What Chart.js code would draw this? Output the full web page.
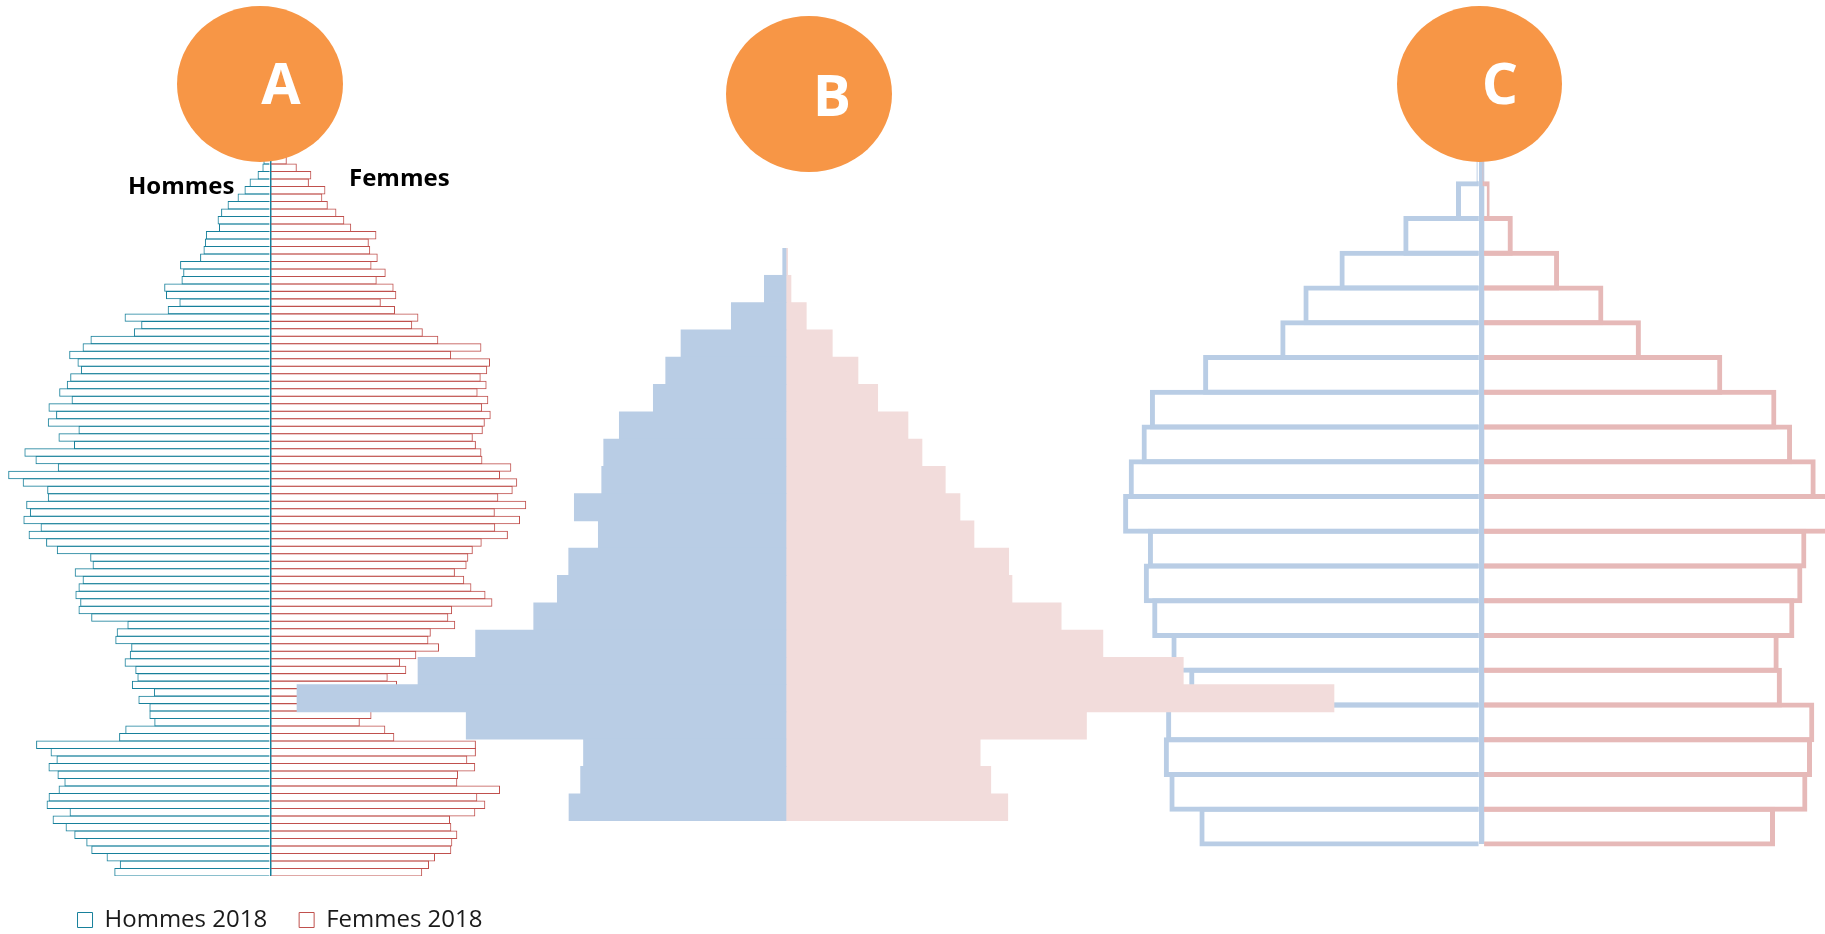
<!DOCTYPE html>
<html>
<head>
<meta charset="utf-8">
<script src="https://cdn.jsdelivr.net/npm/chart.js@4.4.1/dist/chart.umd.min.js"></script>
<style>
body { margin: 0; width: 1825px; height: 934px; overflow: hidden; background: #fff; position: relative; font-family: 'Open Sans', sans-serif; }
.box { position: absolute; }
.rond { position: absolute; border-radius: 50%; background: #f79646; z-index: 5; }
.lettre { position: absolute; width: 100px; text-align: center; color: #fff; font-weight: bold; font-size: 57px; line-height: 57px; }
.titre { position: absolute; font-weight: bold; font-size: 24px; line-height: 24px; color: #000; z-index: 4; }
</style>
</head>
<body>
<div class="box" style="left:0;top:119px;width:560px;height:823px;z-index:1"><canvas id="chartA"></canvas></div>
<div class="box" style="left:1100px;top:145px;width:725px;height:703px;z-index:2"><canvas id="chartC"></canvas></div>
<div class="box" style="left:286px;top:248px;width:1060px;height:573px;z-index:3"><canvas id="chartB"></canvas></div>

<div class="titre" style="left:128px;top:173px">Hommes</div>
<div class="titre" style="left:349px;top:165px">Femmes</div>

<div class="rond" style="left:177px;top:6px;width:166px;height:156px"><div class="lettre" style="left:54px;top:48px">A</div></div>
<div class="rond" style="left:726px;top:16px;width:166px;height:156px"><div class="lettre" style="left:56px;top:50px">B</div></div>
<div class="rond" style="left:1397px;top:6px;width:165px;height:156px"><div class="lettre" style="left:53px;top:48px">C</div></div>

<script>
Chart.defaults.font.family = "'Open Sans', sans-serif";

// pyramide A : un rang par age, de 100 ans (haut) a 0 an (bas)
var agesA = [];
for (var a = 100; a >= 0; a--) {
    agesA.push(String(a));
}
var hommesA = [1, 1.5, 2.5, 4, 5,
    6.9, 7.9, 12.7, 20.7, 25.8, 32.7, 42.7, 49.2, 52.7, 51.3,
    64.4, 65.4, 66.8, 70.2, 90.2, 87.1, 88.8, 106.1, 104.3, 90.9,
    102.6, 145.7, 129.1, 136.4, 179.8, 187.7, 201.1, 192.8, 189.4, 200.1,
    203.5, 211.1, 198.7, 221.8, 214.2, 222.5, 191.8, 211.8, 196.3, 245.9,
    234.8, 212.5, 262.1, 247.6, 223.1, 222.5, 244.1, 240.4, 246.9, 229.7,
    241.7, 224.2, 213.5, 180.1, 177.7, 195.6, 187.7, 191.8, 194.9, 190.1,
    191.8, 179.1, 142.9, 153.6, 155.0, 139.1, 140.5, 145.7, 135.0, 132.9,
    138.4, 116.4, 131.9, 120.9, 120.9, 116.0, 145.0, 151.2, 234.2, 219.7,
    213.8, 221.8, 212.8, 205.9, 211.7, 221.7, 223.7, 200.7, 217.7, 204.7,
    196, 184, 179, 163.7, 150.5, 156.0];
var femmesA = [3, 4, 7, 10, 13,
    16.5, 26.5, 41.0, 38.6, 55.1, 52.0, 57.5, 66.1, 74.0, 80.9,
    106.1, 98.5, 99.9, 107.4, 101.2, 115.4, 106.4, 123.3, 126.0, 110.5,
    124.7, 148.1, 141.9, 152.5, 168.0, 211.1, 180.8, 219.7, 216.9, 210.4,
    216.3, 207.3, 218.0, 211.8, 220.4, 214.5, 212.5, 202.5, 205.6, 211.1,
    212.1, 241.0, 229.7, 246.9, 242.4, 228.0, 255.9, 224.5, 249.7, 224.9,
    237.6, 211.4, 202.5, 198.0, 196.3, 184.6, 193.9, 201.1, 215.2, 222.1,
    181.8, 178.0, 184.9, 160.5, 158.1, 168.7, 146.0, 129.8, 136.0, 117.4,
    126.7, 110, 118, 108, 101.2, 89.5, 115.0, 124.0, 205.6, 205.6,
    197.0, 204.9, 187.7, 187.0, 229.7, 207, 215, 205, 179.7, 181,
    187, 182, 181, 164.7, 158.7, 151.9];

// pyramide B : groupes de 5 ans
var groupesB = ['100+', '95-99', '90-94', '85-89', '80-84', '75-79', '70-74', '65-69', '60-64', '55-59',
    '50-54', '45-49', '40-44', '35-39', '30-34', '25-29', '20-24', '15-19', '10-14', '5-9', '0-4'];
var hommesB = [3.3, 21.7, 54.7, 105, 120.3, 132.7, 166.7, 182.3, 184.3, 211.7, 187.7, 217.3, 228.7, 252.3, 310.4, 368, 489, 319.8, 202.5, 205.4, 217];
var femmesB = [1.7, 5, 20.3, 46.3, 72, 91.7, 122, 136, 159.3, 174, 188, 222.7, 226, 275.2, 316.9, 397.3, 548, 300.5, 194.2, 204.8, 221.8];

// pyramide C : groupes de 5 ans, dernier groupe 95+
var groupesC = ['95+', '90-94', '85-89', '80-84', '75-79', '70-74', '65-69', '60-64', '55-59', '50-54',
    '45-49', '40-44', '35-39', '30-34', '25-29', '20-24', '15-19', '10-14', '5-9', '0-4'];
var hommesC = [5, 25.4, 78.1, 141.9, 178, 201.1, 278.3, 331.5, 339.8, 352.7, 358.3, 333.5, 337.6, 329.2, 310, 292.2, 315.3, 317.6, 312, 282];
var femmesC = [1, 8.3, 31.4, 77.7, 122, 159.5, 240.9, 295, 310.7, 334.3, 352, 325, 321, 313, 297.3, 300.5, 332.9, 330.6, 326, 293.6];

var tealA = '#17809b';
var redA = '#c0504d';
var bleuB = '#b9cde5';
var roseB = '#f2dcdb';
var bleuC = '#b9cde5';
var roseC = '#e6b9b8';

function negatif(list) {
    return list.map(function (v) { return -v; });
}

// axe x reduit a la seule ligne du zero
function axeZero(min, max, color, width) {
    return {
        display: true,
        stacked: true,
        min: min,
        max: max,
        z: 1,
        afterBuildTicks: function (scale) { scale.ticks = [{ value: 0 }]; },
        ticks: { display: false },
        grid: { color: color, lineWidth: width, drawTicks: false },
        border: { display: false }
    };
}

var chartA = new Chart(document.getElementById('chartA'), {
    type: 'bar',
    data: {
        labels: agesA,
        datasets: [{
            label: 'Hommes 2018',
            data: negatif(hommesA),
            backgroundColor: 'rgba(255,255,255,0)',
            borderColor: tealA,
            borderWidth: 1,
            barPercentage: 1.13,
            categoryPercentage: 1
        }, {
            label: 'Femmes 2018',
            data: femmesA,
            backgroundColor: 'rgba(255,255,255,0)',
            borderColor: redA,
            borderWidth: 1,
            barPercentage: 1.13,
            categoryPercentage: 1
        }]
    },
    options: {
        indexAxis: 'y',
        responsive: true,
        maintainAspectRatio: false,
        animation: false,
        plugins: {
            legend: {
                position: 'bottom',
                labels: { boxWidth: 15, boxHeight: 15, padding: 32, color: '#1a1a1a', font: { size: 24 } }
            },
            tooltip: { enabled: false }
        },
        scales: {
            x: axeZero(-270.3, 289.7, tealA, 1.5),
            y: { display: false, stacked: true }
        }
    }
});

var chartC = new Chart(document.getElementById('chartC'), {
    type: 'bar',
    data: {
        labels: groupesC,
        datasets: [{
            label: 'Hommes',
            data: negatif(hommesC),
            backgroundColor: 'rgba(255,255,255,0)',
            borderColor: bleuC,
            borderWidth: 5,
            barPercentage: 1.144,
            categoryPercentage: 1,
            clip: false
        }, {
            label: 'Femmes',
            data: femmesC,
            backgroundColor: 'rgba(255,255,255,0)',
            borderColor: roseC,
            borderWidth: 5,
            barPercentage: 1.144,
            categoryPercentage: 1,
            clip: false
        }]
    },
    options: {
        indexAxis: 'y',
        responsive: true,
        maintainAspectRatio: false,
        animation: false,
        layout: { padding: { top: 4, bottom: 4 } },
        plugins: { legend: { display: false }, tooltip: { enabled: false } },
        scales: {
            x: axeZero(-381.4, 343.6, bleuC, 5.3),
            y: { display: false, stacked: true }
        }
    }
});

var chartB = new Chart(document.getElementById('chartB'), {
    type: 'bar',
    data: {
        labels: groupesB,
        datasets: [{
            label: 'Hommes',
            data: negatif(hommesB),
            backgroundColor: bleuB,
            borderWidth: 0,
            barPercentage: 1,
            categoryPercentage: 1
        }, {
            label: 'Femmes',
            data: femmesB,
            backgroundColor: roseB,
            borderWidth: 0,
            barPercentage: 1,
            categoryPercentage: 1
        }]
    },
    options: {
        indexAxis: 'y',
        responsive: true,
        maintainAspectRatio: false,
        animation: false,
        plugins: { legend: { display: false }, tooltip: { enabled: false } },
        scales: {
            x: { display: false, stacked: true, min: -500, max: 560 },
            y: { display: false, stacked: true }
        }
    }
});
</script>
</body>
</html>
